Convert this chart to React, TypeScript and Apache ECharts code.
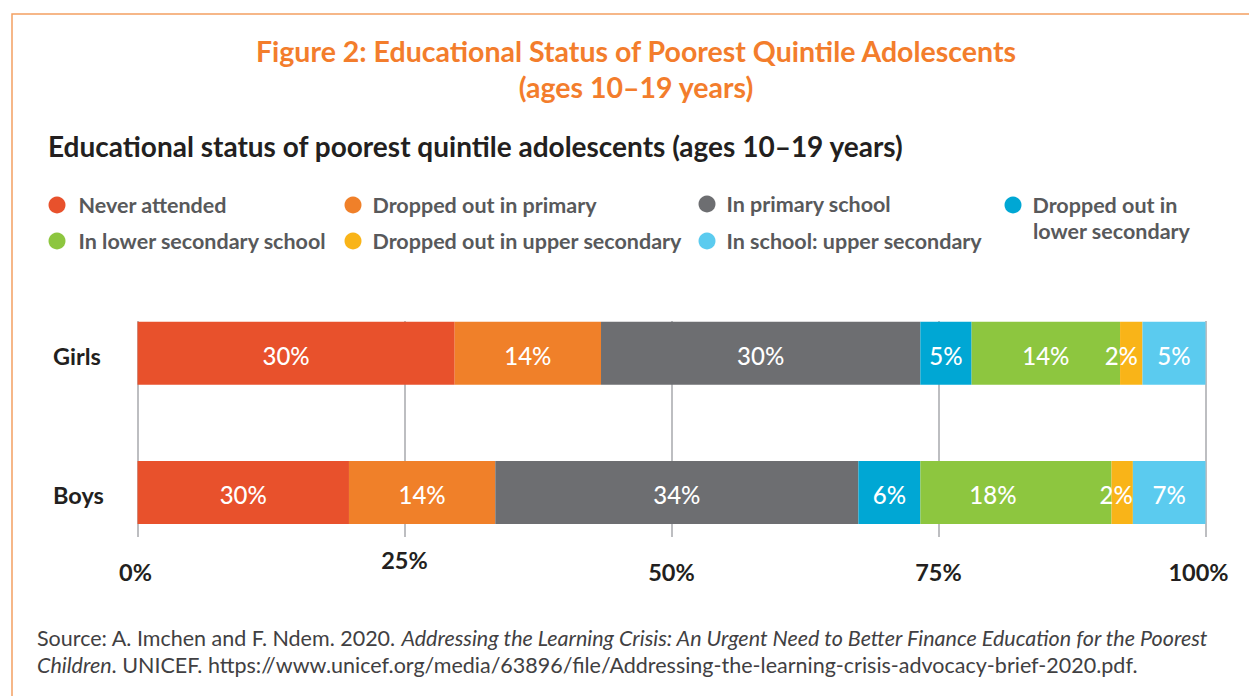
import React, { useEffect, useRef } from "react";
import * as echarts from "echarts";

const groups = ["Girls", "Boys"];
const statuses = [
  "Never attended",
  "Dropped out in primary",
  "In primary school",
  "Dropped out in lower secondary",
  "In lower secondary school",
  "Dropped out in upper secondary",
  "In school: upper secondary",
];
// segment widths as drawn (percent of bar)
const girlsWidths = [29.7, 13.7, 29.9, 4.8, 13.9, 2.1, 5.9];
const boysWidths = [19.8, 13.7, 34.0, 5.8, 17.9, 2.0, 6.8];
// printed labels (percent)
const girlsLabels = [30, 14, 30, 5, 14, 2, 5];
const boysLabels = [30, 14, 34, 6, 18, 2, 7];
const xTicks = [0, 25, 50, 75, 100];

const colors = ["#E8512C", "#F08029", "#6D6E71", "#00A7D4", "#8DC63F", "#F9B418", "#5BCBEF"];

const FONT = "Lato";

export default function App() {
  const ref = useRef<HTMLDivElement>(null);
  useEffect(() => {
    if (!ref.current) return;
    const chart = echarts.init(ref.current, undefined, { renderer: "svg" });

    const nudge: Record<string, number> = { "0-0": -10, "0-5": -10, "1-4": -23, "1-5": -6 };

    const series = statuses.map((name, si) => ({
      name,
      type: "bar",
      stack: "total",
      xAxisIndex: 0,
      yAxisIndex: 0,
      barWidth: 63,
      itemStyle: { color: colors[si] },
      z: 5,
      data: [girlsWidths[si], boysWidths[si]].map((v, di) => ({
        value: v,
        label: { offset: [nudge[di + "-" + si] || 0, 2] },
      })),
      label: {
        show: true,
        position: "inside",
        color: "#FFFFFF",
        fontFamily: FONT,
        fontSize: 24,
        fontWeight: 500,
        formatter: (p: any) => (p.dataIndex === 0 ? girlsLabels : boysLabels)[p.seriesIndex] + "%",
      },
    }));

    const legendPos = [
      { left: 48.5, top: 193 },
      { left: 344.5, top: 193 },
      { left: 698.5, top: 192 },
      { left: 1004.5, top: 193 },
      { left: 48.5, top: 229 },
      { left: 344.5, top: 229 },
      { left: 698.5, top: 229 },
    ];
    const legends = statuses.map((name, i) => ({
      data: [name],
      left: legendPos[i].left,
      top: legendPos[i].top,
      padding: 0,
      selectedMode: false,
      icon: "circle",
      itemWidth: 17,
      itemHeight: 17,
      formatter: (n: string) => (n === "Dropped out in lower secondary" ? "Dropped out in" : n),
      textStyle: {
        color: "#58595B",
        fontFamily: FONT,
        fontSize: 21.5,
        fontWeight: "bold",
        lineHeight: 24,
        padding: [0, 0, 0, i === 0 || i === 4 ? 8 : 6],
      },
    }));

    const tickStyle = { fontFamily: FONT, fontSize: 23.5, fontWeight: "bold", color: "#231F20" };

    chart.setOption({
      animation: false,
      backgroundColor: "#FFFFFF",
      title: [
        {
          text: "Figure 2: Educational Status of Poorest Quintile Adolescents\n(ages 10–19 years)",
          left: 636,
          top: 33,
          textAlign: "center",
          padding: 0,
          textStyle: {
            color: "#F37D2C",
            fontFamily: FONT,
            fontSize: 28.5,
            fontWeight: "bold",
            lineHeight: 36,
          },
        },
        {
          text: "Educational status of poorest quintile adolescents (ages 10–19 years)",
          left: 48,
          top: 130,
          padding: 0,
          textStyle: {
            color: "#231F20",
            fontFamily: FONT,
            fontSize: 28,
            fontWeight: "bold",
            lineHeight: 32,
          },
        },
      ],
      legend: legends,
      grid: [
        { left: 137.5, width: 1068, top: 283.5, height: 278.5 },
        { left: 137.5, width: 1068, top: 321, height: 216 },
      ],
      xAxis: [
        {
          gridIndex: 0,
          type: "value",
          min: 0,
          max: 100,
          show: false,
        },
        {
          gridIndex: 1,
          type: "value",
          min: 0,
          max: 100,
          interval: 25,
          axisLine: { show: false },
          axisTick: { show: false },
          splitLine: { show: true, lineStyle: { color: "#A7A9AC", width: 1.5 } },
          axisLabel: {
            margin: 15,
            formatter: (v: number) =>
              v === 25 ? "{u|" + v + "%}" : v === 100 ? "{r|" + v + "%}" : v === 0 ? "{z|" + v + "%}" : "{n|" + v + "%}",
            rich: {
              n: { ...tickStyle, lineHeight: 40 },
              u: { ...tickStyle, lineHeight: 16 },
              r: { ...tickStyle, lineHeight: 40, padding: [0, 14, 0, 0] },
              z: { ...tickStyle, lineHeight: 40, padding: [0, 4, 0, 0] },
            },
          },
        },
      ],
      yAxis: [
        {
          gridIndex: 0,
          type: "category",
          data: groups,
          inverse: true,
          axisLine: { show: false },
          axisTick: { show: false },
          splitLine: { show: false },
          axisLabel: {
            align: "left",
            margin: 84.5,
            formatter: (v: string) => "{g|" + v + "}",
            rich: {
              g: {
                color: "#231F20",
                fontFamily: FONT,
                fontSize: 23.5,
                fontWeight: "bold",
                padding: [5, 0, 0, 0],
              },
            },
          },
        },
        {
          gridIndex: 1,
          type: "value",
          min: 0,
          max: 1,
          show: false,
        },
      ],
      series,
      graphic: [
        {
          type: "rect",
          shape: { x: 12, y: 14, width: 1300, height: 800 },
          style: { fill: "none", stroke: "#F4A062", lineWidth: 1.5 },
          silent: true,
        },
        {
          type: "text",
          x: 1033,
          y: 231,
          style: {
            text: "lower secondary",
            fill: "#58595B",
            font: "bold 21.5px Lato",
            verticalAlign: "middle",
          },
        },
        {
          type: "text",
          x: 37,
          y: 624,
          style: {
            text:
              "{n|Source: A. Imchen and F. Ndem. 2020. }{i|Addressing the Learning Crisis: An Urgent Need to Better Finance Education for the Poorest}\n{i|Children}{n|. UNICEF. https://www.unicef.org/media/63896/file/Addressing-the-learning-crisis-advocacy-brief-2020.pdf.}",
            fill: "#414042",
            font: "21.5px Lato",
            lineHeight: 27,
            rich: {
              n: { fontFamily: FONT, fontSize: 21.5, color: "#414042", lineHeight: 27 },
              i: { fontFamily: FONT, fontSize: 21.5, fontStyle: "italic", color: "#414042", lineHeight: 27 },
            },
          },
        },
      ],
    });
    return () => chart.dispose();
  }, []);
  return <div ref={ref} style={{ position: "fixed", left: 0, top: 0, width: 1249, height: 696 }} />;
}
